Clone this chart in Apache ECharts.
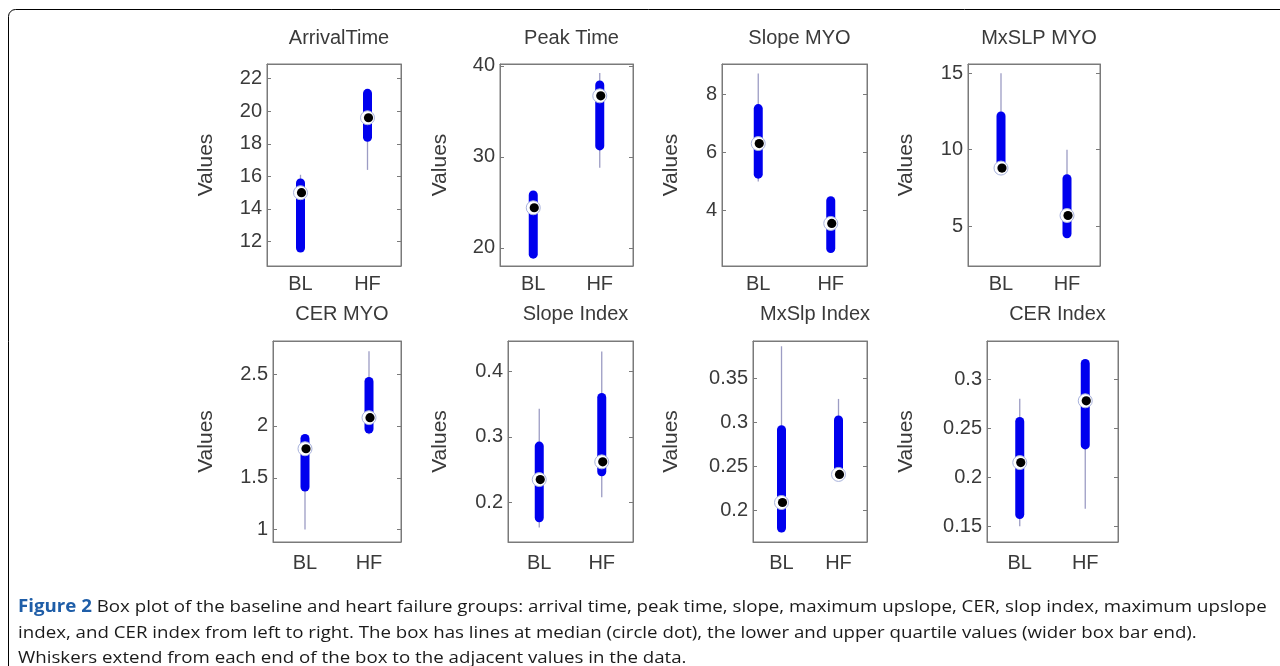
<!DOCTYPE html>
<html>
<head>
<meta charset="utf-8">
<script src="https://cdn.jsdelivr.net/npm/echarts@6/dist/echarts.min.js"></script>
<style>
  html, body { margin: 0; padding: 0; background: #fff; }
  #chart { width: 1280px; height: 666px; }
</style>
</head>
<body>
<div id="chart"></div>
<script>
  // panel titles and groups
  var titles = ["ArrivalTime", "Peak Time", "Slope MYO", "MxSLP MYO",
                "CER MYO", "Slope Index", "MxSlp Index", "CER Index"];
  var groups = ["BL", "HF"];

  // box stats per group: [lower whisker, q1, median, q3, upper whisker]
  var arrivalTime = [[11.5, 11.6, 15.0, 15.6, 16.1], [16.4, 18.4, 19.6, 21.1, 21.3]];
  var peakTime    = [[19.1, 19.3, 24.4, 25.8, 26.0], [28.8, 31.2, 36.7, 37.9, 39.2]];
  var slopeMyo    = [[5.0, 5.25, 6.3, 7.5, 8.7], [2.6, 2.7, 3.56, 4.34, 4.4]];
  var mxslpMyo    = [[8.6, 8.7, 8.8, 12.2, 15.0], [4.3, 4.5, 5.7, 8.1, 10.0]];
  var cerMyo      = [[1.0, 1.41, 1.78, 1.88, 1.9], [1.92, 1.97, 2.08, 2.43, 2.72]];
  var slopeIndex  = [[0.162, 0.177, 0.235, 0.286, 0.343], [0.208, 0.247, 0.262, 0.36, 0.43]];
  var mxslpIndex  = [[0.175, 0.18, 0.209, 0.292, 0.387], [0.238, 0.240, 0.241, 0.303, 0.327]];
  var cerIndex    = [[0.15, 0.162, 0.215, 0.257, 0.28], [0.168, 0.233, 0.278, 0.316, 0.32]];

  var panels = [arrivalTime, peakTime, slopeMyo, mxslpMyo, cerMyo, slopeIndex, mxslpIndex, cerIndex];

  // axis ranges and tick labels
  var yMin = [10.5, 18.0, 2.1, 2.4, 0.88, 0.14, 0.164, 0.134];
  var yMax = [22.9, 40.2, 9.03, 15.6, 2.82, 0.446, 0.393, 0.339];
  var yTicks = [
    [12, 14, 16, 18, 20, 22],
    [20, 30, 40],
    [4, 6, 8],
    [5, 10, 15],
    [1, 1.5, 2, 2.5],
    [0.2, 0.3, 0.4],
    [0.2, 0.25, 0.3, 0.35],
    [0.15, 0.2, 0.25, 0.3]
  ];

  var captionLines = [
    "{b|Figure 2} Box plot of the baseline and heart failure groups: arrival time, peak time, slope, maximum upslope, CER, slop index, maximum upslope",
    "index, and CER index from left to right. The box has lines at median (circle dot), the lower and upper quartile values (wider box bar end).",
    "Whiskers extend from each end of the box to the adjacent values in the data."
  ];

  // layout of the 8 plot boxes [left, top, width, height]
  var boxes = [
    [267, 64, 134, 202], [500, 64, 133, 202], [722, 64, 145, 202], [968, 64, 132, 202],
    [273, 341, 128, 201], [508, 341, 125, 201], [753, 341, 114, 201], [987, 341, 131, 201]
  ];
  var nameGaps = [50, 49, 40, 51, 56, 57, 71, 70];

  var FONT = "Liberation Sans";
  var TXT = "#3a3a3a";
  var FRAME = "#7a7a7a";

  function renderBox(params, api) {
    var x = api.value(0);
    var lo = api.coord([x, api.value(1)]);
    var q1 = api.coord([x, api.value(2)]);
    var md = api.coord([x, api.value(3)]);
    var q3 = api.coord([x, api.value(4)]);
    var hi = api.coord([x, api.value(5)]);
    return {
      type: "group",
      children: [
        { type: "line", shape: { x1: lo[0], y1: lo[1], x2: hi[0], y2: hi[1] },
          style: { stroke: "#9c9cc4", lineWidth: 1.3 } },
        { type: "line", shape: { x1: q1[0], y1: q1[1], x2: q3[0], y2: q3[1] },
          style: { stroke: "#0000ee", lineWidth: 9, lineCap: "round" } },
        { type: "circle", shape: { cx: md[0], cy: md[1], r: 7 },
          style: { fill: "#ffffff", stroke: "#a8b2dc", lineWidth: 1 } },
        { type: "circle", shape: { cx: md[0] + 1, cy: md[1], r: 4.6 },
          style: { fill: "#000000" } }
      ]
    };
  }

  var grid = [], xAxis = [], yAxis = [], series = [], title = [];

  panels.forEach(function (stats, i) {
    var b = boxes[i];
    var row2 = i >= 4;
    grid.push({ left: b[0], top: b[1], width: b[2], height: b[3],
      show: true, borderColor: FRAME, borderWidth: 1, backgroundColor: "#fff" });

    title.push({
      text: titles[i], left: b[0] + b[2] / 2, top: b[1] - (row2 ? 42 : 41), textAlign: "center",
      textStyle: { fontFamily: FONT, fontSize: 20, fontWeight: "normal", color: TXT }
    });

    // bottom + top category axes
    xAxis.push({
      type: "category", gridIndex: i, data: groups, position: "bottom",
      axisLine: { lineStyle: { color: FRAME } },
      axisTick: { inside: true, alignWithLabel: true, length: 4, lineStyle: { color: FRAME } },
      axisLabel: { fontFamily: FONT, fontSize: 20, color: TXT, margin: row2 ? 11 : 8 },
      splitLine: { show: false }
    });
    xAxis.push({
      type: "category", gridIndex: i, data: groups, position: "top",
      axisLine: { lineStyle: { color: FRAME } },
      axisTick: { inside: true, alignWithLabel: true, length: 4, lineStyle: { color: FRAME } },
      axisLabel: { show: false }, splitLine: { show: false }
    });

    // left + right value axes
    yAxis.push({
      type: "value", gridIndex: i, min: yMin[i], max: yMax[i], position: "left",
      name: "Values", nameLocation: "middle", nameRotate: 90, nameGap: nameGaps[i],
      nameTextStyle: { fontFamily: FONT, fontSize: 21, color: TXT },
      axisLine: { show: true, lineStyle: { color: FRAME } },
      axisTick: { show: true, inside: true, length: 4, customValues: yTicks[i], lineStyle: { color: FRAME } },
      axisLabel: { fontFamily: FONT, fontSize: 20, color: TXT, margin: 5, customValues: yTicks[i] },
      splitLine: { show: false }
    });
    yAxis.push({
      type: "value", gridIndex: i, min: yMin[i], max: yMax[i], position: "right",
      axisLine: { show: true, lineStyle: { color: FRAME } },
      axisTick: { show: true, inside: true, length: 4, customValues: yTicks[i], lineStyle: { color: FRAME } },
      axisLabel: { show: false }, splitLine: { show: false }
    });

    series.push({
      type: "custom", xAxisIndex: i * 2, yAxisIndex: i * 2,
      renderItem: renderBox,
      encode: { x: 0, y: [1, 2, 3, 4, 5] },
      data: stats.map(function (s, g) { return [g].concat(s); }),
      z: 10
    });
  });

  var graphic = [
    // figure frame with rounded top-left corner
    { type: "rect", shape: { x: 8.5, y: 9.5, width: 1400, height: 800, r: 7 },
      style: { fill: "none", stroke: "#000", lineWidth: 1 }, silent: true }
  ];
  var capY = [607, 633, 658];
  captionLines.forEach(function (line, k) {
    graphic.push({
      type: "text", x: 18, y: capY[k], scaleX: 1.1, scaleY: 1,
      style: {
        text: line, fontFamily: "Open Sans", fontSize: 17, fill: "#1a1a1a",
        textVerticalAlign: "middle",
        rich: { b: { fontFamily: "Open Sans", fontSize: 17, fontWeight: "bold", fill: "#1f5ea8" } }
      }
    });
  });

  var chart = echarts.init(document.getElementById("chart"), null, { renderer: "canvas" });
  chart.setOption({
    animation: false,
    backgroundColor: "#fff",
    title: title,
    grid: grid,
    xAxis: xAxis,
    yAxis: yAxis,
    series: series,
    graphic: graphic
  });
</script>
</body>
</html>
